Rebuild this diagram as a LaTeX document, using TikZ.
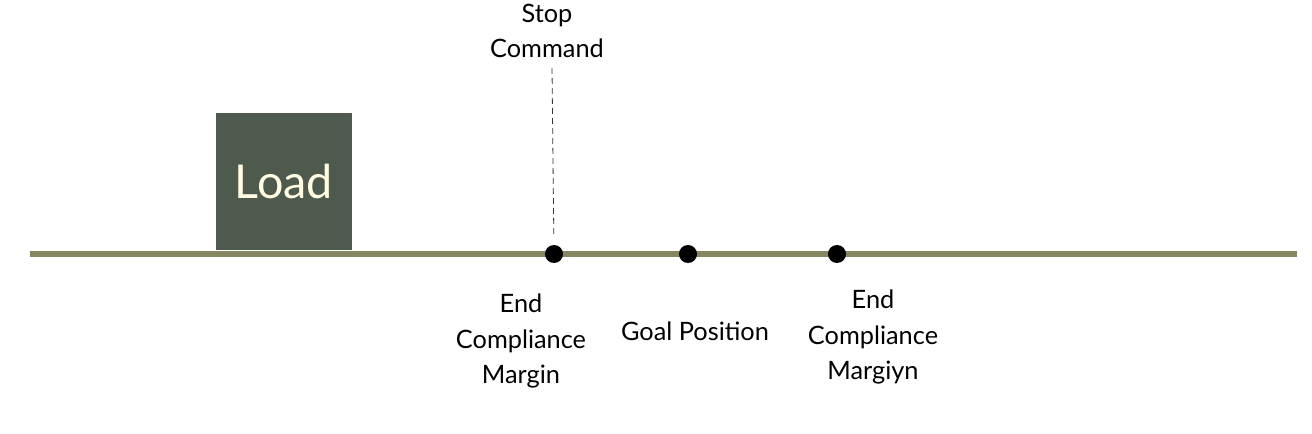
\documentclass[tikz,border=0pt]{standalone}
\usepackage{fontspec}
\setmainfont{Lato}
\usetikzlibrary{positioning}
\definecolor{rail}{RGB}{134,134,96}
\definecolor{loadbox}{RGB}{78,90,78}
\definecolor{loadtext}{RGB}{255,252,225}

\tikzset{
  mark dot/.style={circle, fill=black, inner sep=0pt, minimum size=13.5pt},
  caption/.style={align=center, font=\fontsize{19}{26.3}\selectfont, inner sep=0pt}
}

\begin{document}
\begin{tikzpicture}[x=0.75pt, y=-0.75pt]
   \useasboundingbox (0,0) rectangle (1312,434);

   \coordinate (railL) at (30,254);
   \coordinate (railR) at (1297,254);
   \draw[rail, line width=4pt] (railL) -- (railR);

   \node[fill=loadbox, text=loadtext, minimum width=102pt, minimum height=103pt,
         inner sep=0pt, font=\fontsize{35}{40}\selectfont] (load) at (284,181.5) {Load};

   \node[mark dot] (endL) at (554,254) {};
   \node[mark dot] (goal) at (688,254) {};
   \node[mark dot] (endR) at (837,254) {};

   \node[caption] (stop) at (547,31) {Stop\\Command};
   \coordinate (cmd) at (552,68);
   \draw[black!80, line width=0.6pt, dash pattern=on 4.5pt off 3pt, shorten >=7pt] (cmd) -- (endL);

   \node[caption] (lblL) at (521,341) {End\\Compliance\\Margin};
   \node[caption] (lblG) at (695,331) {Goal Position};
   \node[caption] (lblR) at (873,337) {End\\Compliance\\Margiyn};
\end{tikzpicture}
\end{document}
